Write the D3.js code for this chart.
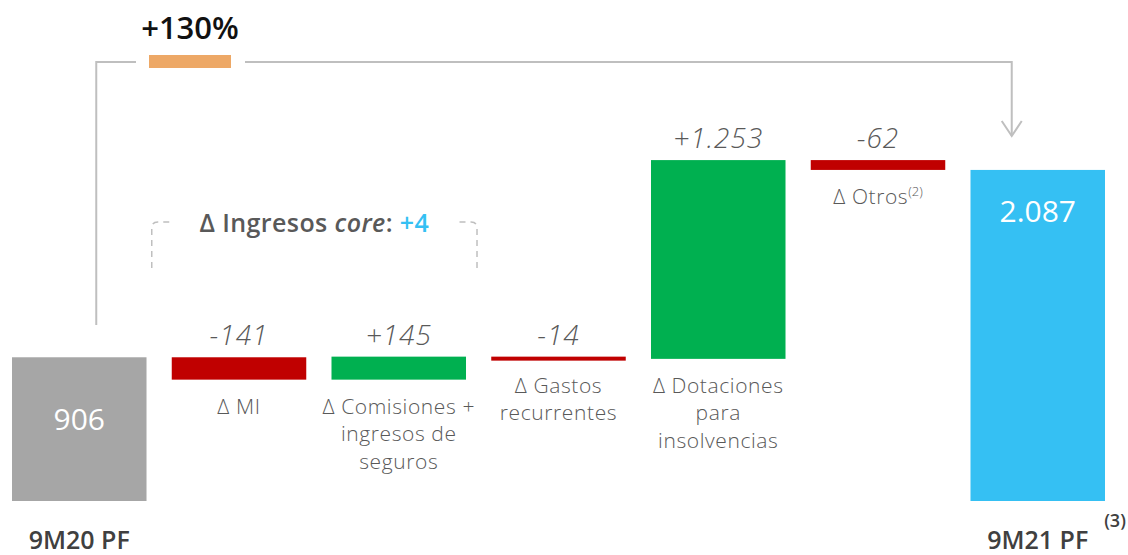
<!DOCTYPE html>
<html>
<head>
<meta charset="utf-8">
<script src="https://cdn.jsdelivr.net/npm/d3@7"></script>
<style>
  html, body { margin: 0; padding: 0; background: #fff; }
  svg { display: block; font-family: "Open Sans", "Noto Sans", sans-serif; }
</style>
</head>
<body>
<div id="chart"></div>
<script>
const categories = ["9M20 PF", "MI", "Comisiones", "Gastos", "Dotaciones", "Otros", "9M21 PF"]
const values = [906, -141, 145, -14, 1253, -62, 2087]
const isTotal = [true, false, false, false, false, false, true]
const valueLabels = ["906", "-141", "+145", "-14", "+1.253", "-62", "2.087"]
const categoryLines = [
  ["9M20 PF"],
  ["\u0394 MI"],
  ["\u0394 Comisiones  +", "ingresos de", "seguros"],
  ["\u0394 Gastos", "recurrentes"],
  ["\u0394 Dotaciones", "para", "insolvencias"],
  ["\u0394 Otros"],
  ["9M21 PF"]
]
const growthLabel = "+130%"
const coreLabel = "+4"

const width = 1128, height = 555
const colors = { total0: "#a6a6a6", total1: "#35c0f3", up: "#00b050", down: "#c00000", line: "#bfbfbf", text: "#595959" }

// waterfall start / end values
let run = 0
const bars = values.map((v, i) => {
  let d
  if (isTotal[i]) { d = { start: 0, end: v }; run = v }
  else { d = { start: run, end: run + v }; run += v }
  return { ...d, i, cat: categories[i], v }
})

const svg = d3.select("#chart").append("svg")
  .attr("width", width).attr("height", height)

const x = d3.scaleBand()
  .domain(categories)
  .range([12, 1105])
  .paddingInner(0.158)
  .paddingOuter(0)

const y = d3.scaleLinear()
  .domain([0, 2200])
  .range([501, 152])

const bw = x.bandwidth()

function barColor(d) {
  if (isTotal[d.i]) return d.i === 0 ? colors.total0 : colors.total1
  return d.v >= 0 ? colors.up : colors.down
}

svg.selectAll("rect.bar")
  .data(bars)
  .join("rect")
  .attr("class", "bar")
  .attr("x", d => x(d.cat))
  .attr("width", bw)
  .attr("y", d => y(Math.max(d.start, d.end)))
  .attr("height", d => Math.max(4, Math.abs(y(d.start) - y(d.end))))
  .attr("fill", barColor)

// values inside total bars
svg.selectAll("text.total")
  .data(bars.filter(d => isTotal[d.i]))
  .join("text")
  .attr("class", "total")
  .attr("x", d => x(d.cat) + bw / 2)
  .attr("y", d => d.i === 0 ? y(d.end) + 73 : y(d.end) + 52)
  .attr("text-anchor", "middle")
  .attr("fill", "#fff")
  .attr("font-size", 30)
  .attr("font-weight", 500)
  .text(d => valueLabels[d.i])

// delta value labels above bars
const deltas = bars.filter(d => !isTotal[d.i])
svg.selectAll("text.delta")
  .data(deltas)
  .join("text")
  .attr("class", "delta")
  .attr("x", d => x(d.cat) + bw / 2)
  .attr("y", d => y(Math.max(d.start, d.end)) - 12)
  .attr("text-anchor", "middle")
  .attr("fill", colors.text)
  .attr("font-size", 28)
  .attr("font-style", "italic")
  .attr("font-weight", 300)
  .attr("letter-spacing", 1)
  .text(d => valueLabels[d.i])

// category labels under delta bars
const catText = svg.selectAll("text.cat")
  .data(deltas)
  .join("text")
  .attr("class", "cat")
  .attr("text-anchor", "middle")
  .attr("fill", colors.text)
  .attr("font-size", 21)
  .attr("font-weight", 300)
  .attr("letter-spacing", 0.6)

catText.each(function(d) {
  const t = d3.select(this)
  const top = y(Math.min(d.start, d.end)) + 34
  categoryLines[d.i].forEach((line, k) => {
    t.append("tspan")
      .attr("x", x(d.cat) + bw / 2)
      .attr("y", top + k * 27.5)
      .text(line)
  })
  if (d.cat === "Otros") {
    t.append("tspan").attr("font-size", 13).attr("dy", -8).attr("letter-spacing", 0).text("(2)")
  }
})

// total category labels at bottom
svg.selectAll("text.totalcat")
  .data(bars.filter(d => isTotal[d.i]))
  .join("text")
  .attr("class", "totalcat")
  .attr("x", d => x(d.cat) + bw / 2)
  .attr("y", 549)
  .attr("text-anchor", "middle")
  .attr("fill", "#404040")
  .attr("font-size", 25)
  .attr("font-weight", 600)
  .text(d => categoryLines[d.i][0])

const last = bars[bars.length - 1]
svg.append("text")
  .attr("x", x(last.cat) + bw + 10)
  .attr("y", 527)
  .attr("text-anchor", "middle")
  .attr("fill", "#404040")
  .attr("font-size", 18)
  .attr("font-weight", 600)
  .text("(3)")

// growth connector
const lx = x(categories[0]) + bw / 2 + 17
const rx = x(last.cat) + bw / 2 - 26
const ty = 62
const conn = svg.append("g")
  .attr("fill", "none")
  .attr("stroke", colors.line)
  .attr("stroke-width", 2)

conn.append("path").attr("d", `M${lx},325 V${ty} H136`)
conn.append("path").attr("d", `M245,${ty} H${rx} V136`)
conn.append("path").attr("d", `M${rx - 10},121 L${rx},136 L${rx + 10},121`)

svg.append("rect")
  .attr("x", 149).attr("y", 55)
  .attr("width", 82).attr("height", 13)
  .attr("fill", "#eda866")

svg.append("text")
  .attr("x", 190)
  .attr("y", 39)
  .attr("text-anchor", "middle")
  .attr("fill", "#111")
  .attr("font-size", 31)
  .attr("font-weight", 600)
  .text(growthLabel)

// core income bracket
const bl = x(categories[1]) - 20
const br = x(categories[2]) + bw + 11
const bt = 222, bb = 268
const bracket = svg.append("g")
  .attr("fill", "none")
  .attr("stroke", colors.line)
  .attr("stroke-width", 1.5)
  .attr("stroke-dasharray", "6,5")
bracket.append("path").attr("d", `M${bl},${bb} V${bt + 6} Q${bl},${bt} ${bl + 6},${bt} H${bl + 18}`)
bracket.append("path").attr("d", `M${br},${bb} V${bt + 6} Q${br},${bt} ${br - 6},${bt} H${br - 22}`)

const core = svg.append("text")
  .attr("x", (bl + br) / 2)
  .attr("y", 232)
  .attr("text-anchor", "middle")
  .attr("fill", colors.text)
  .attr("font-size", 25)
  .attr("font-weight", 600)
  .attr("letter-spacing", 0.4)
core.append("tspan").text("\u0394 Ingresos ")
core.append("tspan").attr("font-style", "italic").text("core")
core.append("tspan").text(": ")
core.append("tspan").attr("fill", "#35c0f3").text(coreLabel)
</script>
</body>
</html>
